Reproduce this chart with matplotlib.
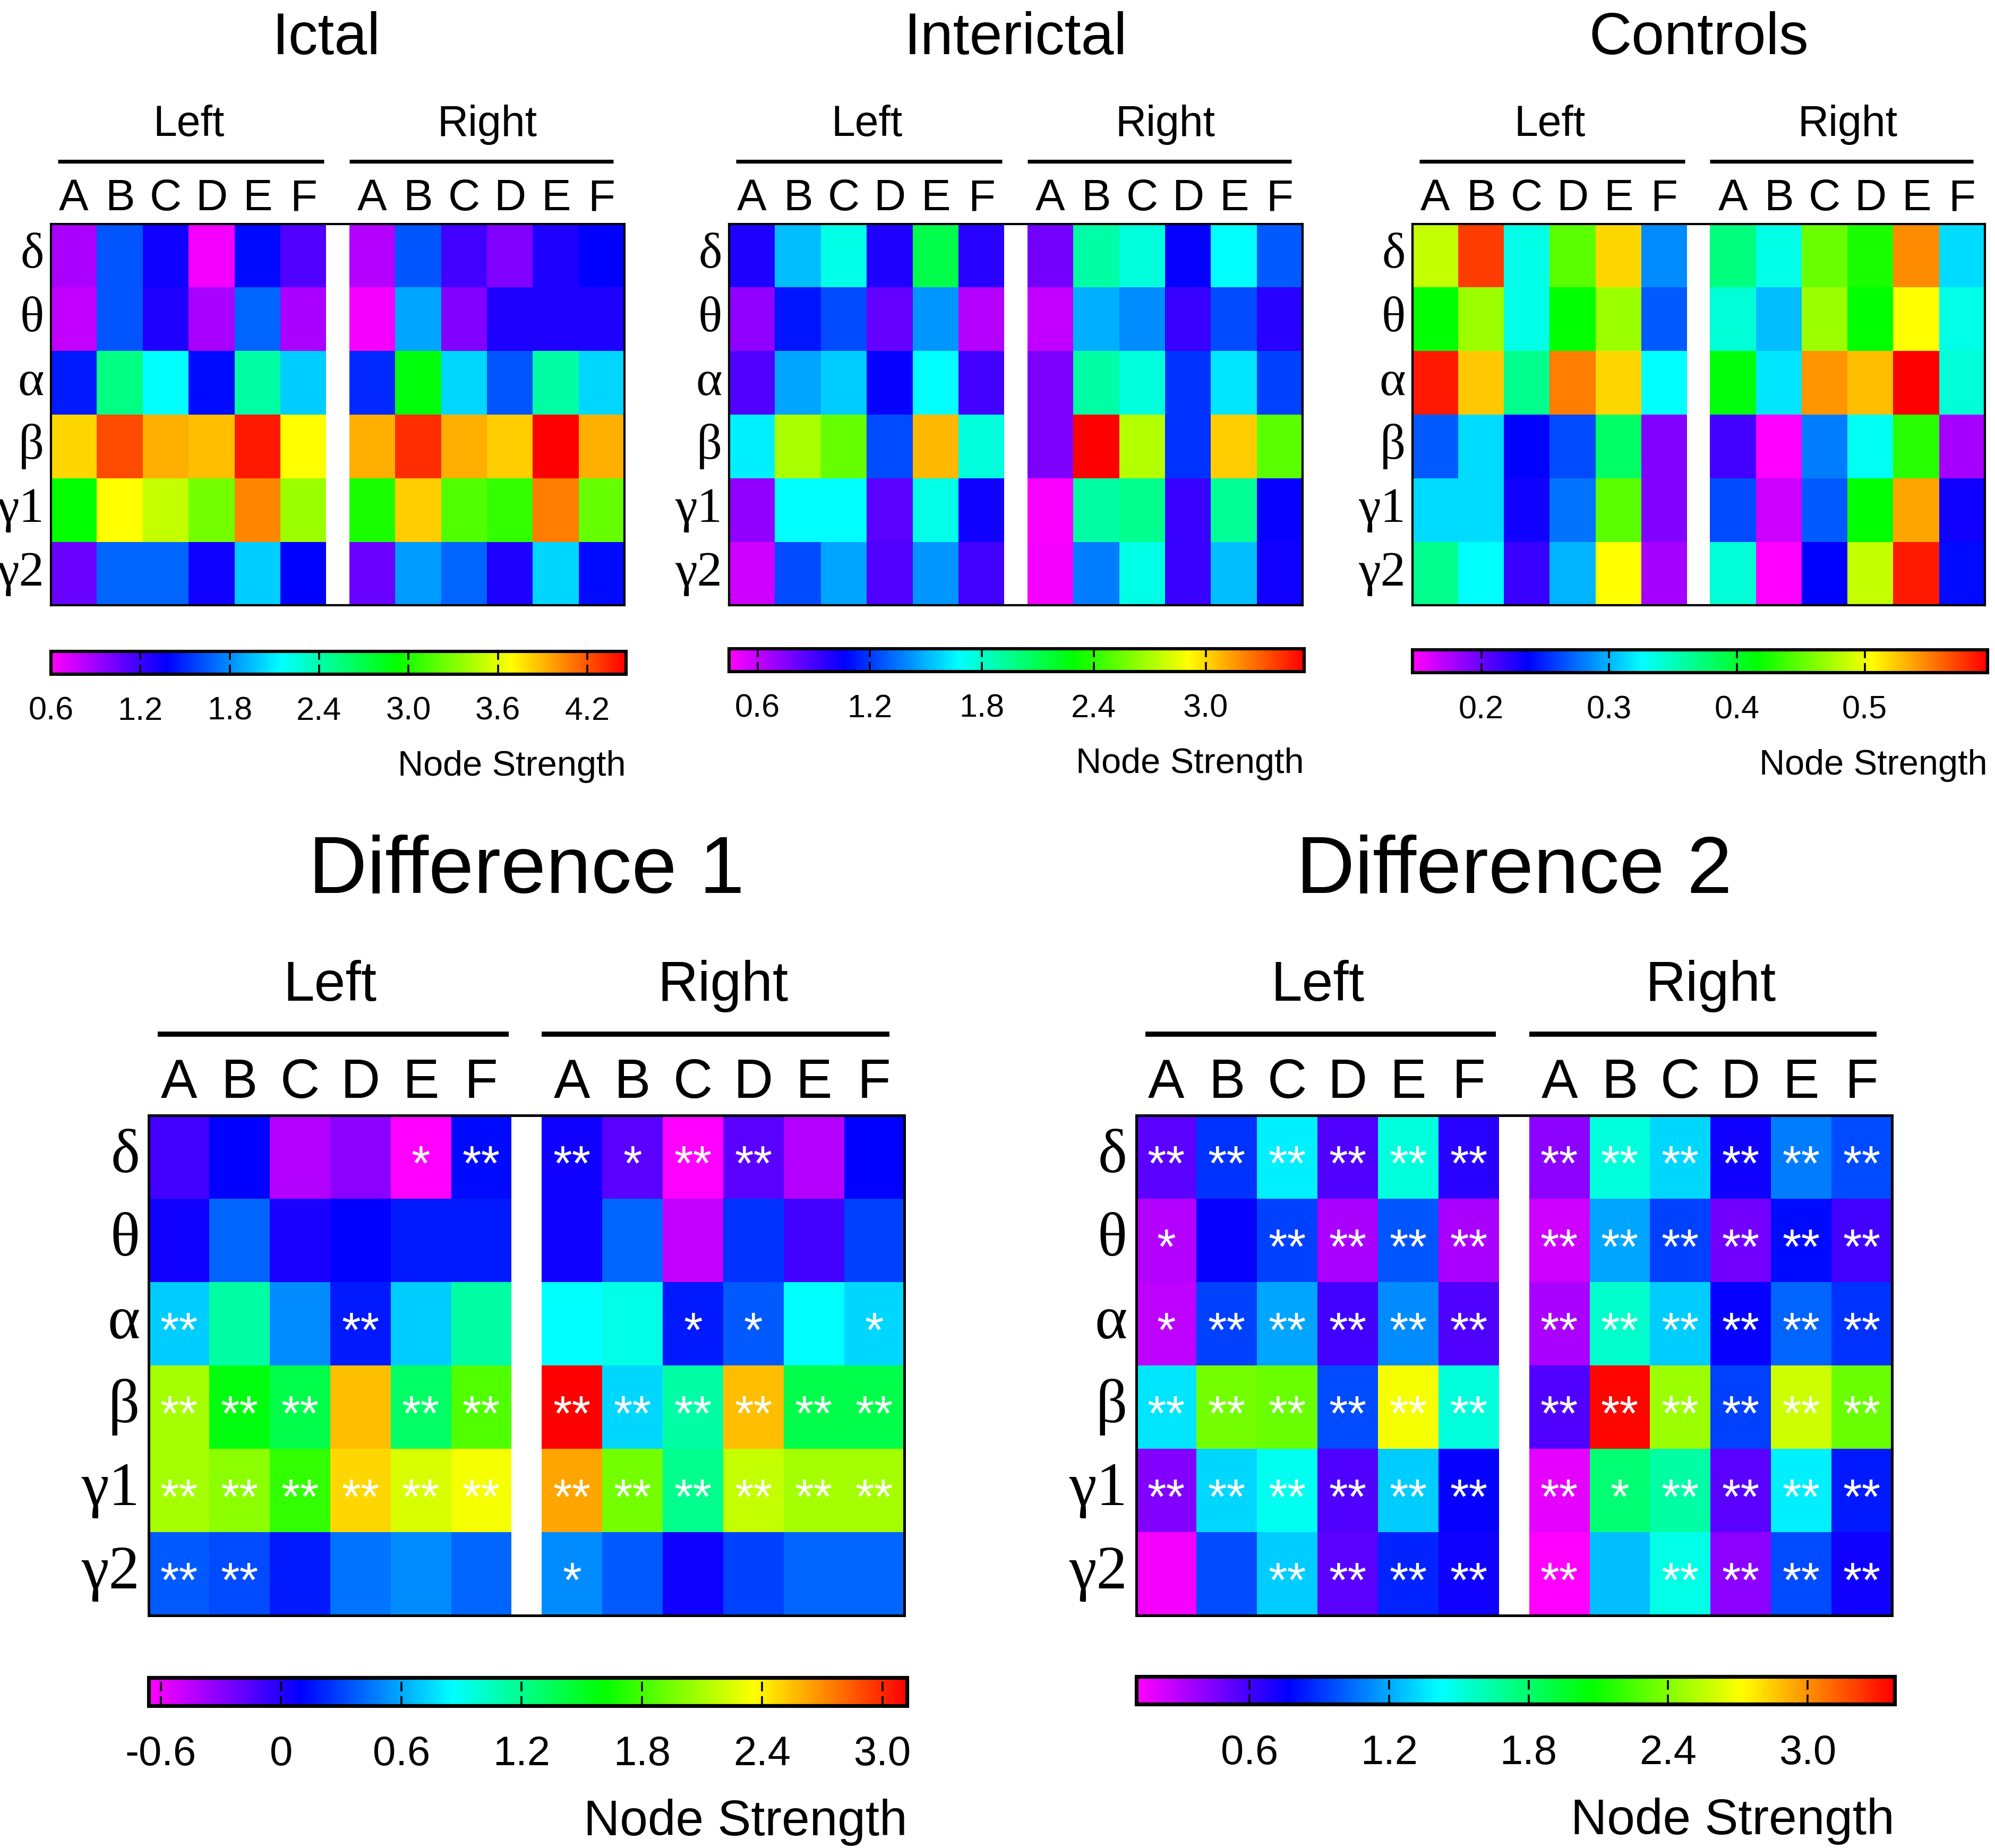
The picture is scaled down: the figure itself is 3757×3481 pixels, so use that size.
import matplotlib
matplotlib.use("Agg")
import matplotlib.pyplot as plt
import numpy as np
from matplotlib.colors import LinearSegmentedColormap, Normalize

plt.rcParams['font.family'] = ['Liberation Sans', 'DejaVu Sans']

# ---- data (rows = bands, columns = Left A-F then Right A-F)
bands = ['δ', 'θ', 'α', 'β', 'γ1', 'γ2']
sites = ['A', 'B', 'C', 'D', 'E', 'F']

ictal = [
    [0.87, 1.64, 1.33, 0.64, 1.41, 1.14, 0.83, 1.64, 1.18, 0.99, 1.29, 1.37],
    [0.79, 1.64, 1.29, 0.87, 1.68, 0.87, 0.64, 1.87, 0.99, 1.29, 1.29, 1.29],
    [1.45, 2.53, 2.14, 1.41, 2.41, 1.99, 1.49, 2.88, 2.03, 1.64, 2.41, 2.03],
    [3.80, 4.23, 3.92, 3.88, 4.38, 3.69, 3.92, 4.31, 3.92, 3.84, 4.46, 3.92],
    [2.92, 3.69, 3.50, 3.26, 4.04, 3.38, 2.99, 3.84, 3.15, 3.07, 4.07, 3.22],
    [1.06, 1.68, 1.68, 1.33, 1.99, 1.37, 1.06, 1.84, 1.68, 1.29, 2.03, 1.41],
]
interictal = [
    [1.00, 1.52, 1.74, 1.00, 2.11, 0.97, 0.79, 1.90, 1.77, 1.06, 1.68, 1.28],
    [0.72, 1.12, 1.25, 0.82, 1.43, 0.63, 0.60, 1.49, 1.40, 0.94, 1.25, 0.97],
    [0.88, 1.46, 1.56, 1.06, 1.68, 0.91, 0.76, 1.90, 1.77, 1.19, 1.62, 1.22],
    [1.65, 2.70, 2.54, 1.25, 3.07, 1.77, 0.76, 3.52, 2.73, 1.19, 3.03, 2.51],
    [0.72, 1.68, 1.68, 0.85, 1.74, 1.03, 0.46, 1.90, 1.96, 0.94, 1.93, 1.06],
    [0.57, 1.25, 1.46, 0.88, 1.43, 0.91, 0.48, 1.37, 1.74, 0.94, 1.52, 1.03],
]
controls = [
    [0.484, 0.574, 0.335, 0.448, 0.520, 0.286, 0.371, 0.335, 0.452, 0.425, 0.546, 0.313],
    [0.416, 0.470, 0.335, 0.416, 0.470, 0.268, 0.340, 0.304, 0.470, 0.416, 0.506, 0.335],
    [0.587, 0.524, 0.366, 0.551, 0.520, 0.326, 0.412, 0.317, 0.542, 0.528, 0.595, 0.340],
    [0.268, 0.313, 0.236, 0.263, 0.380, 0.191, 0.213, 0.147, 0.281, 0.330, 0.430, 0.178],
    [0.313, 0.313, 0.231, 0.277, 0.448, 0.191, 0.263, 0.164, 0.268, 0.416, 0.537, 0.231],
    [0.366, 0.326, 0.218, 0.299, 0.506, 0.178, 0.340, 0.147, 0.236, 0.484, 0.587, 0.240],
]
diff1 = [
    [-0.09, 0.10, -0.43, -0.32, -0.65, 0.13, 0.06, -0.17, -0.65, -0.17, -0.43, 0.10],
    [0.06, 0.40, 0.02, 0.10, 0.17, 0.17, 0.06, 0.40, -0.47, 0.25, -0.09, 0.29],
    [0.70, 1.12, 0.51, 0.17, 0.70, 1.12, 0.85, 0.93, 0.17, 0.36, 0.85, 0.74],
    [2.10, 1.57, 1.38, 2.56, 1.31, 1.84, 3.11, 0.74, 1.12, 2.56, 1.38, 1.38],
    [2.10, 2.03, 1.76, 2.48, 2.25, 2.33, 2.63, 1.95, 1.19, 2.18, 2.10, 2.10],
    [0.36, 0.32, 0.17, 0.44, 0.51, 0.40, 0.51, 0.36, 0.06, 0.29, 0.40, 0.40],
]
diff2 = [
    [0.54, 0.89, 1.38, 0.57, 1.51, 0.67, 0.41, 1.51, 1.32, 0.73, 1.09, 0.96],
    [0.31, 0.76, 0.93, 0.34, 0.99, 0.34, 0.24, 1.19, 0.93, 0.47, 0.80, 0.60],
    [0.28, 0.93, 1.19, 0.60, 1.12, 0.57, 0.34, 1.55, 1.29, 0.76, 1.02, 0.89],
    [1.35, 2.36, 2.33, 0.96, 2.69, 1.51, 0.57, 3.36, 2.46, 0.93, 2.59, 2.33],
    [0.44, 1.32, 1.45, 0.57, 1.29, 0.76, 0.18, 1.78, 1.65, 0.54, 1.38, 0.83],
    [0.14, 0.96, 1.29, 0.54, 0.86, 0.73, 0.12, 1.25, 1.48, 0.41, 0.96, 0.73],
]
diff1_stars = [
    ['', '', '', '', '*', '**', '**', '*', '**', '**', '', ''],
    ['', '', '', '', '', '', '', '', '', '', '', ''],
    ['**', '', '', '**', '', '', '', '', '*', '*', '', '*'],
    ['**', '**', '**', '', '**', '**', '**', '**', '**', '**', '**', '**'],
    ['**', '**', '**', '**', '**', '**', '**', '**', '**', '**', '**', '**'],
    ['**', '**', '', '', '', '', '*', '', '', '', '', ''],
]
diff2_stars = [
    ['**', '**', '**', '**', '**', '**', '**', '**', '**', '**', '**', '**'],
    ['*', '', '**', '**', '**', '**', '**', '**', '**', '**', '**', '**'],
    ['*', '**', '**', '**', '**', '**', '**', '**', '**', '**', '**', '**'],
    ['**', '**', '**', '**', '**', '**', '**', '**', '**', '**', '**', '**'],
    ['**', '**', '**', '**', '**', '**', '**', '*', '**', '**', '**', '**'],
    ['', '', '**', '**', '**', '**', '**', '', '**', '**', '**', '**'],
]

# colour scale limits and colourbar ticks
ictal_lim = [0.6, 4.46]
interictal_lim = [0.447, 3.527]
controls_lim = [0.146, 0.596]
diff1_lim = [-0.66, 3.124]
diff2_lim = [0.112, 3.374]

ictal_ticks = [0.6, 1.2, 1.8, 2.4, 3.0, 3.6, 4.2]
ictal_ticklabels = ['0.6', '1.2', '1.8', '2.4', '3.0', '3.6', '4.2']
interictal_ticks = [0.6, 1.2, 1.8, 2.4, 3.0]
interictal_ticklabels = ['0.6', '1.2', '1.8', '2.4', '3.0']
controls_ticks = [0.2, 0.3, 0.4, 0.5]
controls_ticklabels = ['0.2', '0.3', '0.4', '0.5']
diff1_ticks = [-0.6, 0.0, 0.6, 1.2, 1.8, 2.4, 3.0]
diff1_ticklabels = ['-0.6', '0', '0.6', '1.2', '1.8', '2.4', '3.0']
diff2_ticks = [0.6, 1.2, 1.8, 2.4, 3.0]
diff2_ticklabels = ['0.6', '1.2', '1.8', '2.4', '3.0']

cmap = LinearSegmentedColormap.from_list(
    'rainbow6', ['#ff00ff', '#0000ff', '#00ffff', '#00ff00', '#ffff00', '#ff0000'])

GAP = 0.5

small = dict(title=40, side=29, col=30, row=34, tick=22, label=24, star=28,
             frame=1.5, bar=2.6, cb_lw=2.2, pad=15, labelpad=16)
big = dict(title=55, side=38, col=37, row=42, tick=28, label=34, star=33,
           frame=1.8, bar=3.5, cb_lw=2.6, pad=20, labelpad=17)


def draw_panel(fig, rect, cbrect, data, lim, ticks, ticklabels, title, sz,
               stars=None, title_x=6.25):
    data = np.array(data)
    ax = fig.add_axes(rect)
    norm = Normalize(vmin=lim[0], vmax=lim[1])
    y_edges = np.arange(7)
    x_left = np.arange(7)
    x_right = np.arange(7) + 6 + GAP
    mesh = ax.pcolormesh(x_left, y_edges, data[:, :6], cmap=cmap, norm=norm)
    ax.pcolormesh(x_right, y_edges, data[:, 6:], cmap=cmap, norm=norm)
    ax.set_xlim(0, 12 + GAP)
    ax.set_ylim(6, 0)
    ax.set_xticks([])
    ax.set_yticks([])
    for s in ax.spines.values():
        s.set_linewidth(sz['frame'])

    tr = ax.get_xaxis_transform()
    centers = list(np.arange(6) + 0.5) + list(np.arange(6) + 6.5 + GAP)
    for xc, lab in zip(centers, sites * 2):
        ax.text(xc, 1.035, lab, transform=tr, ha='center', va='baseline',
                fontsize=sz['col'])
    ax.plot([0.15, 5.95], [1.163, 1.163], transform=tr, color='k',
            lw=sz['bar'], clip_on=False, solid_capstyle='butt')
    ax.plot([6 + GAP, 12.25], [1.163, 1.163], transform=tr, color='k',
            lw=sz['bar'], clip_on=False, solid_capstyle='butt')
    ax.text(3.0, 1.23, 'Left', transform=tr, ha='center', va='baseline',
            fontsize=sz['side'])
    ax.text(9.5, 1.23, 'Right', transform=tr, ha='center', va='baseline',
            fontsize=sz['side'])
    ax.text(title_x, 1.445, title, transform=tr, ha='center', va='baseline',
            fontsize=sz['title'])

    for i, b in enumerate(bands):
        ax.text(-0.15, i + 0.5, b, ha='right', va='center', fontsize=sz['row'],
                family=['Liberation Serif', 'DejaVu Serif'])

    if stars is not None:
        for i in range(6):
            for j in range(12):
                if stars[i][j]:
                    ax.text(centers[j], i + 0.62, stars[i][j], ha='center',
                            va='center', color='white', fontsize=sz['star'])

    cax = fig.add_axes(cbrect)
    cb = fig.colorbar(mesh, cax=cax, orientation='horizontal')
    cb.outline.set_linewidth(sz['cb_lw'])
    cb.set_ticks(ticks)
    cb.set_ticklabels(ticklabels)
    cax.tick_params(length=0, pad=sz['pad'], labelsize=sz['tick'])
    cax.vlines(ticks, 0, 1, transform=cax.get_xaxis_transform(), colors='k',
               lw=1.3, linestyles=(0, (5, 2.5)))
    cb.set_label('Node Strength', loc='right', fontsize=sz['label'],
                 labelpad=sz['labelpad'])
    return ax


fig = plt.figure(figsize=(18.785, 17.405), dpi=200)

draw_panel(fig, [0.0255, 0.6724, 0.2876, 0.2065], [0.0255, 0.6352, 0.2883, 0.0124],
           ictal, ictal_lim, ictal_ticks, ictal_ticklabels, 'Ictal', small,
           title_x=6.0)
draw_panel(fig, [0.3654, 0.6724, 0.2876, 0.2065], [0.3654, 0.6366, 0.2883, 0.0124],
           interictal, interictal_lim, interictal_ticks, interictal_ticklabels,
           'Interictal', small)
draw_panel(fig, [0.7079, 0.6724, 0.2870, 0.2065], [0.7079, 0.6359, 0.2883, 0.0124],
           controls, controls_lim, controls_ticks, controls_ticklabels,
           'Controls', small)
draw_panel(fig, [0.0746, 0.1259, 0.3788, 0.2705], [0.0746, 0.0771, 0.3801, 0.0151],
           diff1, diff1_lim, diff1_ticks, diff1_ticklabels, 'Difference 1', big,
           stars=diff1_stars)
draw_panel(fig, [0.5695, 0.1259, 0.3788, 0.2705], [0.5695, 0.0778, 0.3801, 0.0151],
           diff2, diff2_lim, diff2_ticks, diff2_ticklabels, 'Difference 2', big,
           stars=diff2_stars)

fig.savefig('out.png', dpi=200, facecolor='white')
